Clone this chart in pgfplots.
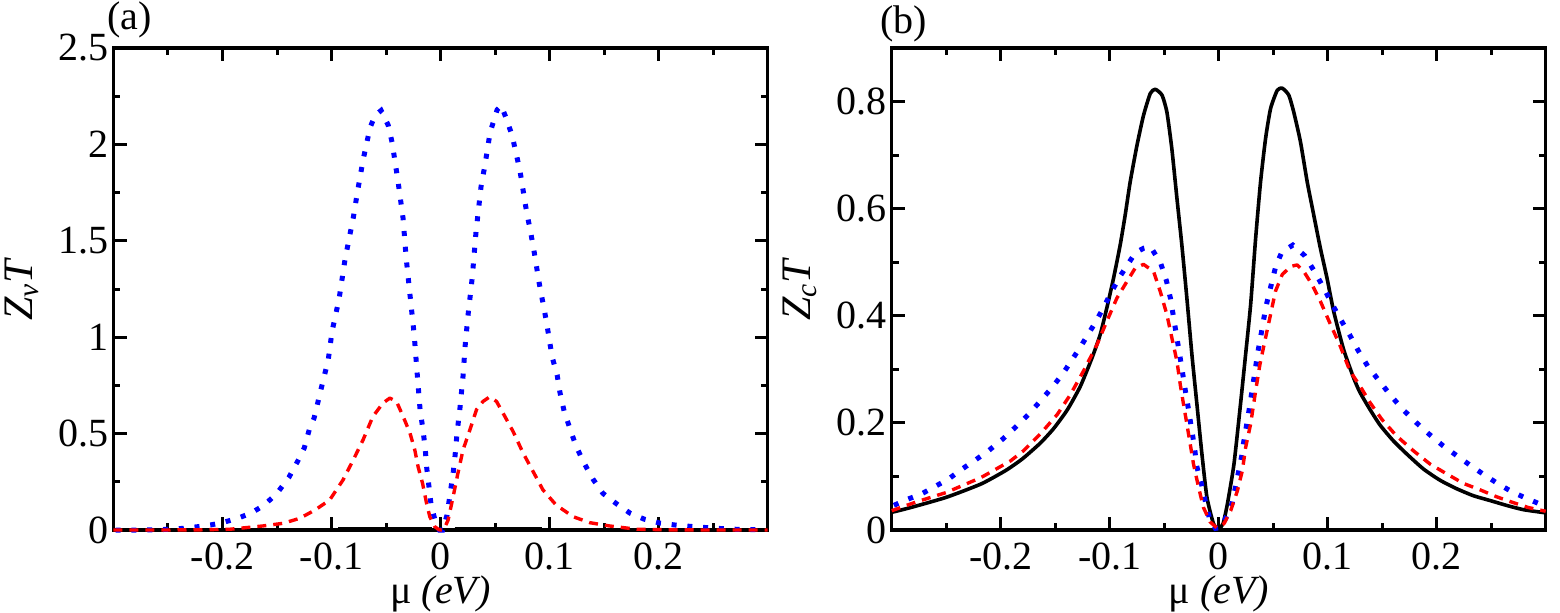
\documentclass[border=0pt]{standalone}
\usepackage{fontspec}
\setmainfont{Liberation Serif}
\usepackage{pgfplots}
\pgfplotsset{compat=1.18}
\begin{document}
\begin{tikzpicture}
\path[use as bounding box] (0,0) rectangle (780pt,306pt);
\pgfplotsset{
  myax/.style={
    scale only axis, width=327pt, height=241pt,
    xmin=-0.3, xmax=0.3, ymin=0, clip=false,
    axis line style={line width=1.7pt},
    every tick/.style={black, line width=1.5pt},
    major tick length=6.5pt, minor tick length=3.5pt,
    tick align=inside,
    xtick={-0.2,-0.1,0,0.1,0.2},
    xticklabels={-0.2,-0.1,0,0.1,0.2},
    minor xtick={-0.25,-0.15,-0.05,0.05,0.15,0.25},
    tick label style={font=\fontsize{20}{24}\selectfont},
    xticklabel style={anchor=north, inner sep=0pt, yshift=-6pt},
    yticklabel style={anchor=east, inner sep=0pt, xshift=-2.5pt},
    xlabel={μ \textit{(eV)}},
    xlabel style={font=\fontsize{20}{24}\selectfont, inner sep=0pt, at={(axis description cs:0.5,0)}, anchor=base, yshift=-36.5pt},
    ylabel style={font=\fontsize{21}{25}\selectfont, inner sep=0pt, at={(axis description cs:-0.124,0.5)}, anchor=base},
  },
  bluedot/.style={blue, line width=2.5pt, dash pattern=on 2.5pt off 5.4pt, line cap=butt},
  reddash/.style={red, line width=1.7pt, dash pattern=on 4.5pt off 3.5pt, line join=round},
  blacksolid/.style={black, line width=1.8pt, line join=round},
}
% ---------------- panel (a) ----------------
\begin{axis}[myax, at={(56.75pt,41pt)}, anchor=south west,
  ymax=2.5,
  ytick={0,0.5,1,1.5,2,2.5}, yticklabels={0,0.5,1,1.5,2,2.5},
  minor ytick={0.25,0.75,1.25,1.75,2.25},
  ylabel={\textit{Z}\textsubscript{\textit{v}}\textit{T}}]
\addplot[blacksolid] coordinates {(-0.094,0.006) (-0.008,0.006)};
\addplot[blacksolid] coordinates {(0.013,0.006) (0.093,0.006)};
\addplot[bluedot] coordinates {
(-0.298,0.000) (-0.287,0.000) (-0.274,0.000) (-0.261,0.001) (-0.248,0.004)
(-0.235,0.009) (-0.223,0.017) (-0.211,0.026) (-0.199,0.040) (-0.186,0.061)
(-0.174,0.087) (-0.162,0.128) (-0.150,0.190) (-0.139,0.274) (-0.131,0.357)
(-0.125,0.425) (-0.120,0.529) (-0.116,0.580) (-0.112,0.674) (-0.108,0.768)
(-0.103,0.882) (-0.0995,1.030) (-0.093,1.200) (-0.0875,1.407) (-0.080,1.620)
(-0.076,1.760) (-0.071,1.920) (-0.0646,2.088) (-0.060,2.150) (-0.0545,2.176)
(-0.048,2.100) (-0.0444,2.010) (-0.0417,1.910) (-0.039,1.810) (-0.0343,1.615)
(-0.0316,1.417) (-0.028,1.220) (-0.0242,1.017) (-0.0215,0.820) (-0.0187,0.622)
(-0.016,0.518) (-0.014,0.420) (-0.0126,0.320) (-0.0105,0.222) (-0.0086,0.128)
(-0.004,0.030) (-0.001,0.000) (0.002,0.000) (0.006,0.078) (0.0116,0.295)
(0.0134,0.388) (0.0152,0.503) (0.018,0.640) (0.0207,0.800) (0.0226,0.955)
(0.0253,1.116) (0.029,1.303) (0.0327,1.553) (0.0372,1.781) (0.041,1.900)
(0.0455,2.062) (0.052,2.180) (0.0556,2.202) (0.060,2.140) (0.0657,2.046)
(0.0694,1.953) (0.073,1.860) (0.0785,1.667) (0.085,1.475) (0.0905,1.282)
(0.0969,1.090) (0.1024,0.898) (0.107,0.804) (0.1097,0.710) (0.1134,0.617)
(0.1189,0.523) (0.1244,0.435) (0.1317,0.347) (0.140,0.263) (0.149,0.190)
(0.162,0.134) (0.174,0.087) (0.187,0.056) (0.202,0.035) (0.215,0.026)
(0.229,0.019) (0.240,0.014) (0.253,0.009) (0.265,0.005) (0.280,0.002)
(0.298,0.001)};
\addplot[reddash] coordinates {
(-0.300,0.000) (-0.250,0.000) (-0.220,0.001) (-0.193,0.004) (-0.163,0.021)
(-0.144,0.035) (-0.129,0.061) (-0.115,0.104) (-0.1016,0.156) (-0.0894,0.260)
(-0.080,0.364) (-0.071,0.468) (-0.062,0.589) (-0.0527,0.659) (-0.0465,0.684)
(-0.0404,0.667) (-0.0343,0.589) (-0.028,0.503) (-0.0236,0.416) (-0.0206,0.329)
(-0.0165,0.243) (-0.0128,0.139) (-0.0098,0.069) (-0.0052,0.017) (-0.001,0.000)
(0.003,0.002) (0.007,0.052) (0.0116,0.173) (0.016,0.295) (0.0207,0.416)
(0.027,0.520) (0.033,0.624) (0.039,0.667) (0.045,0.690) (0.0514,0.667)
(0.0574,0.606) (0.0666,0.511) (0.0758,0.399) (0.085,0.303) (0.094,0.208)
(0.106,0.130) (0.1217,0.069) (0.137,0.038) (0.155,0.021) (0.180,0.004)
(0.210,0.001) (0.250,0.000) (0.300,0.000)};
\end{axis}
% ---------------- panel (b) ----------------
\begin{axis}[myax, at={(445.85pt,41pt)}, anchor=south west,
  ymax=0.9,
  ytick={0,0.2,0.4,0.6,0.8}, yticklabels={0,0.2,0.4,0.6,0.8},
  minor ytick={0.1,0.3,0.5,0.7},
  ylabel={\textit{Z}\textsubscript{\textit{c}}\textit{T}}]
\addplot[blacksolid, smooth, tension=0.35] coordinates {
(-0.300,0.033) (-0.2825,0.042) (-0.250,0.061) (-0.218,0.086) (-0.1955,0.111)
(-0.180,0.133) (-0.1638,0.162) (-0.1516,0.189) (-0.139,0.224) (-0.127,0.268)
(-0.1163,0.321) (-0.1087,0.365) (-0.1026,0.415) (-0.0965,0.470) (-0.0904,0.532)
(-0.0858,0.588) (-0.0812,0.650) (-0.075,0.718) (-0.069,0.774) (-0.0628,0.815)
(-0.0583,0.823) (-0.052,0.812) (-0.0475,0.780) (-0.043,0.712) (-0.0383,0.619)
(-0.0338,0.532) (-0.0292,0.433) (-0.0246,0.328) (-0.020,0.235) (-0.0154,0.142)
(-0.0108,0.061) (-0.0048,0.012) (0.000,0.002) (0.004,0.012) (0.008,0.049)
(0.014,0.123) (0.020,0.235) (0.0247,0.328) (0.0293,0.421) (0.0339,0.545)
(0.0384,0.650) (0.043,0.731) (0.0476,0.787) (0.0537,0.821) (0.0583,0.825)
(0.0643,0.812) (0.0689,0.780) (0.075,0.725) (0.0812,0.650) (0.0872,0.588)
(0.0933,0.526) (0.0994,0.470) (0.1055,0.408) (0.1146,0.337) (0.1238,0.284)
(0.1296,0.257) (0.1388,0.225) (0.148,0.196) (0.160,0.167) (0.1725,0.142)
(0.1878,0.114) (0.203,0.093) (0.2184,0.077) (0.2337,0.064) (0.249,0.055)
(0.264,0.046) (0.2795,0.038) (0.300,0.032)};
\addplot[bluedot] coordinates {
(-0.298,0.046) (-0.286,0.057) (-0.273,0.067) (-0.2605,0.081) (-0.248,0.095)
(-0.236,0.113) (-0.223,0.131) (-0.2106,0.149) (-0.198,0.170) (-0.1854,0.194)
(-0.1745,0.216) (-0.1635,0.241) (-0.1534,0.265) (-0.1433,0.291) (-0.1332,0.322)
(-0.1259,0.345) (-0.1139,0.385) (-0.1057,0.415) (-0.0983,0.445) (-0.0901,0.475)
(-0.0818,0.501) (-0.0763,0.518) (-0.069,0.526) (-0.0626,0.529) (-0.0534,0.499)
(-0.0479,0.465) (-0.0442,0.432) (-0.0415,0.398) (-0.0387,0.363) (-0.036,0.330)
(-0.0332,0.294) (-0.0305,0.259) (-0.0277,0.225) (-0.025,0.190) (-0.0222,0.155)
(-0.0204,0.121) (-0.0158,0.086) (-0.0121,0.052) (-0.0084,0.021) (-0.003,0.003)
(0.0026,0.005) (0.0122,0.049) (0.0158,0.084) (0.0213,0.140) (0.0222,0.155)
(0.0277,0.222) (0.0305,0.259) (0.036,0.333) (0.0387,0.363) (0.0433,0.417)
(0.0524,0.493) (0.0579,0.519) (0.068,0.532) (0.079,0.512) (0.0881,0.482)
(0.0963,0.452) (0.1037,0.423) (0.1119,0.393) (0.120,0.365) (0.128,0.335)
(0.137,0.305) (0.1474,0.278) (0.1575,0.252) (0.168,0.227) (0.181,0.201)
(0.193,0.179) (0.206,0.157) (0.219,0.138) (0.232,0.119) (0.2437,0.103)
(0.2565,0.086) (0.2694,0.071) (0.2813,0.060) (0.2941,0.049) (0.298,0.047)};
\addplot[reddash] coordinates {
(-0.300,0.036) (-0.278,0.052) (-0.250,0.070) (-0.218,0.098) (-0.191,0.129)
(-0.179,0.148) (-0.1638,0.179) (-0.148,0.216) (-0.136,0.253) (-0.124,0.297)
(-0.1117,0.346) (-0.1026,0.390) (-0.0934,0.433) (-0.0842,0.464) (-0.0766,0.489)
(-0.069,0.496) (-0.0598,0.483) (-0.0537,0.446) (-0.0475,0.402) (-0.043,0.359)
(-0.0383,0.315) (-0.0353,0.272) (-0.0323,0.235) (-0.0292,0.198) (-0.0261,0.160)
(-0.0231,0.123) (-0.0185,0.080) (-0.014,0.042) (-0.0078,0.015) (-0.0017,0.004)
(0.0049,0.012) (0.011,0.036) (0.0171,0.073) (0.0217,0.111) (0.0247,0.154)
(0.0293,0.198) (0.0339,0.260) (0.0378,0.309) (0.043,0.359) (0.0469,0.396)
(0.0521,0.446) (0.0583,0.477) (0.0659,0.492) (0.072,0.495) (0.078,0.483)
(0.0857,0.458) (0.0933,0.427) (0.1025,0.384) (0.111,0.346) (0.1204,0.297)
(0.1296,0.269) (0.1388,0.238) (0.1495,0.207) (0.163,0.176) (0.1786,0.148)
(0.194,0.123) (0.209,0.105) (0.2245,0.087) (0.2398,0.075) (0.255,0.062)
(0.2704,0.051) (0.284,0.042) (0.300,0.035)};
\end{axis}
\node[anchor=base west, inner sep=0pt, font=\fontsize{20}{24}\selectfont] at (53.5pt,291.3pt) {(a)};
\node[anchor=base west, inner sep=0pt, font=\fontsize{20}{24}\selectfont] at (440pt,289pt) {(b)};
\end{tikzpicture}
\end{document}
